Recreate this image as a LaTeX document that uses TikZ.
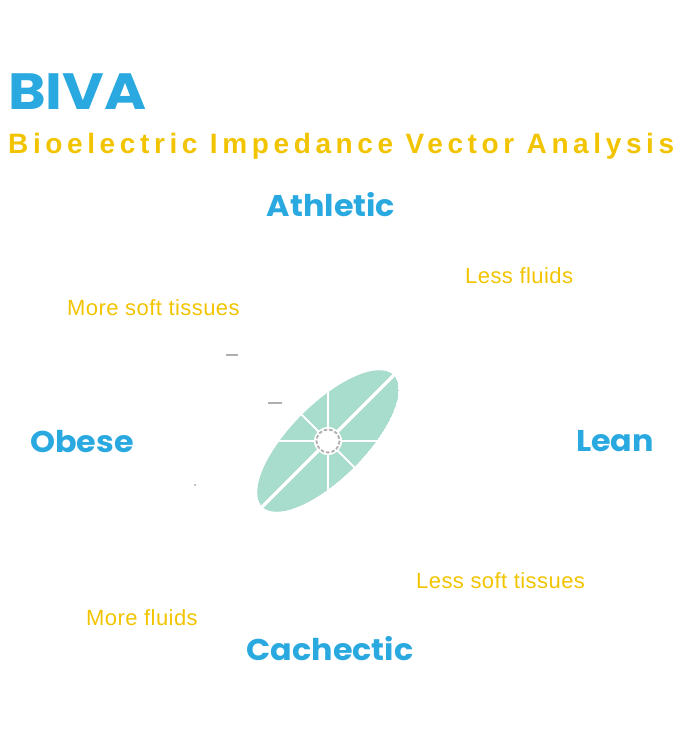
\documentclass[tikz,border=0pt]{standalone}
\usepackage{fontspec}
\setmainfont{Liberation Sans}
\newfontfamily\headfont{Poppins}[UprightFont=* Bold]
\newfontfamily\subfont{Liberation Sans}[LetterSpace=16.5,BoldFont=* Bold]
\newfontfamily\notefont{Liberation Sans}[LetterSpace=2]
\definecolor{bivablue}{RGB}{42,169,224}
\definecolor{bivayellow}{RGB}{242,196,0}
\definecolor{bivateal}{RGB}{168,220,205}
\definecolor{bivagray}{RGB}{175,175,175}
\usetikzlibrary{positioning, calc}

\tikzset{
  zone/.style={font=\headfont\fontsize{30}{33}\selectfont, text=bivablue, inner sep=0pt, anchor=base, xscale=1.06},
  trend/.style={font=\notefont\fontsize{22}{25}\selectfont, text=bivayellow, inner sep=0pt, anchor=base west},
  tick/.style={bivagray, line width=2pt}
}

\begin{document}
\begin{tikzpicture}[x=1pt, y=-1pt]
\useasboundingbox (0,0) rectangle (675,735);

% Title
\node[font=\headfont\fontsize{51}{56}\selectfont, text=bivablue, inner sep=0pt, anchor=base west, xscale=1.12] (title) at (8,110) {BIVA};
\node[font=\subfont\bfseries\fontsize{28}{32}\selectfont, text=bivayellow, inner sep=0pt, anchor=base west] (subtitle) at (8,154) {Bioelectric Impedance Vector Analysis};

% Ellipse
\coordinate (c) at (328,441);
\begin{scope}
\clip (c) ellipse[x radius=93, y radius=37, rotate=45];
\fill[bivateal] (c) ellipse[x radius=93, y radius=37, rotate=45];
\draw[white, line width=3.5pt] ($(c)+(135:110)$) -- ($(c)+(-45:110)$);
\draw[white, line width=2pt] ($(c)+(45:110)$) -- ($(c)+(-135:110)$);
\draw[white, line width=2pt] ($(c)+(-60,0)$) -- ($(c)+(60,0)$);
\draw[white, line width=2pt] ($(c)+(0,-60)$) -- ($(c)+(0,60)$);
\end{scope}
\fill[white] (c) circle[radius=14];
\draw[bivagray, line width=1.8pt, dash pattern=on 3.5pt off 2pt] (c) circle[radius=11.5];

% Grey marks
\draw[tick] (226,355) -- (238,355);
\draw[tick] (268,403) -- (282,403);
\fill[bivagray] (195,485) circle[radius=1.2];

% Zones
\node[zone] (athletic) at (331,217) {Athletic};
\node[zone] (obese) at (82,452) {Obese};
\node[zone] (lean) at (615,451) {Lean};
\node[zone] (cachectic) at (330,660) {Cachectic};

% Trends
\node[trend] (lessfluids) at (465,283) {Less fluids};
\node[trend] (moresoft) at (67,315) {More soft tissues};
\node[trend] (lesssoft) at (416,588) {Less soft tissues};
\node[trend] (morefluids) at (86,625) {More fluids};
\end{tikzpicture}
\end{document}
